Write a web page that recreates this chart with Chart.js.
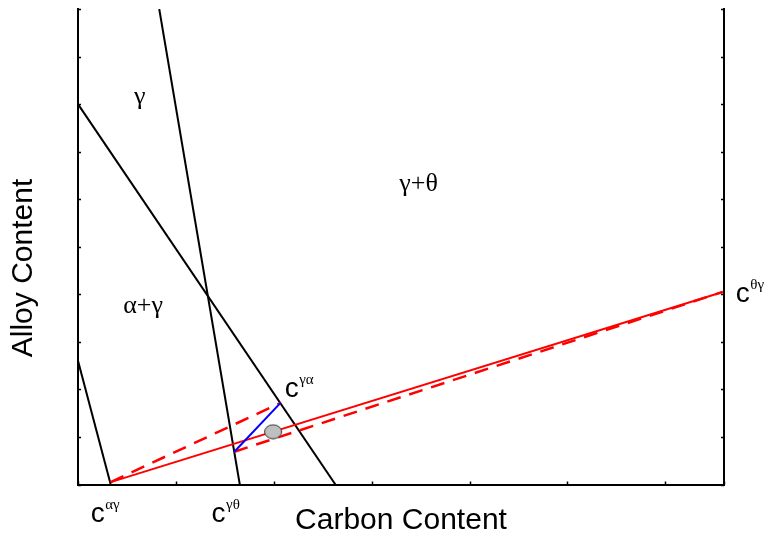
<!DOCTYPE html>
<html lang="en">
  <head>
    <meta charset="UTF-8" />
    <meta name="viewport" content="width=device-width, initial-scale=1.0" />
    <title>Carbon and alloy partitioning</title>
    <script src="https://cdn.jsdelivr.net/npm/chart.js"></script>
    <style>
      body { margin: 0; background: #fff; }
      #box { width: 767px; height: 534px; }
    </style>
  </head>
  <body>
    <div id="box"><canvas id="phase-diagram" width="767" height="534"></canvas></div>
    <script>
      // phase boundaries (carbon, alloy)
      const gammaThetaX = [0.83, 1.653];
      const gammaThetaY = [10, 0];
      const gammaAlphaX = [0, 2.63];
      const gammaAlphaY = [8.0, 0];
      const alphaGammaX = [0, 0.334];
      const alphaGammaY = [2.6, 0];

      // tie-lines
      const tieLineX = [0.334, 6.587];
      const tieLineY = [0.05, 4.05];
      const upperDashX = [0.334, 2.069];
      const upperDashY = [0.05, 1.717];
      const lowerDashX = [1.597, 6.587];
      const lowerDashY = [0.69, 4.05];
      const gammaTieX = [1.597, 2.069];
      const gammaTieY = [0.69, 1.717];

      // bulk composition
      const alloyX = [1.993];
      const alloyY = [1.11];

      const xMax = 6.6;
      const yMax = 10;

      const SANS = '"Liberation Sans", Arial, sans-serif';
      const SERIF = '"Liberation Serif", "Times New Roman", serif';

      const toPoints = (xs, ys) => xs.map((x, i) => ({ x: x, y: ys[i] }));

      function lineSet(xs, ys, color, width, dash) {
        return {
          data: toPoints(xs, ys),
          showLine: true,
          borderColor: color,
          borderWidth: width,
          borderDash: dash || [],
          pointRadius: 0,
          fill: false,
        };
      }

      // grey ellipse used as the point style of the alloy marker
      const ellipse = document.createElement("canvas");
      ellipse.width = 20;
      ellipse.height = 16;
      (function () {
        const c = ellipse.getContext("2d");
        c.beginPath();
        c.ellipse(10, 8, 8.5, 7, 0, 0, Math.PI * 2);
        c.fillStyle = "#bfbfbf";
        c.fill();
        c.lineWidth = 1;
        c.strokeStyle = "#333";
        c.stroke();
      })();

      // region names and composition labels, placed in data units
      const regionLabels = [
        { text: "\u03b3", x: 0.63, y: 8.0 },
        { text: "\u03b3+\u03b8", x: 3.48, y: 6.18 },
        { text: "\u03b1+\u03b3", x: 0.665, y: 3.6 },
      ];
      const compLabels = [
        { sup: "\u03b1\u03b3", x: 0.13, y: -0.78 },
        { sup: "\u03b3\u03b8", x: 1.364, y: -0.78 },
        { sup: "\u03b3\u03b1", x: 2.112, y: 1.836 },
        { sup: "\u03b8\u03b3", x: 6.72, y: 3.836 },
      ];

      const annotate = {
        id: "annotate",
        afterDraw(chart) {
          const ctx = chart.ctx;
          const xs = chart.scales.x;
          const ys = chart.scales.y;
          const ys2 = chart.scales.y2;
          const area = chart.chartArea;

          // inward tick marks
          ctx.save();
          ctx.strokeStyle = "#000";
          ctx.lineWidth = 1.5;
          ctx.beginPath();
          xs.ticks.forEach((t) => {
            const px = Math.round(xs.getPixelForValue(t.value)) + 0.5;
            ctx.moveTo(px, area.bottom);
            ctx.lineTo(px, area.bottom - 3);
          });
          ys.ticks.forEach((t) => {
            const py = Math.round(ys.getPixelForValue(t.value)) + 0.5;
            ctx.moveTo(area.left, py);
            ctx.lineTo(area.left + 3, py);
          });
          ys2.ticks.forEach((t) => {
            const py = Math.round(ys2.getPixelForValue(t.value)) + 0.5;
            ctx.moveTo(area.right, py);
            ctx.lineTo(area.right - 3, py);
          });
          ctx.stroke();

          ctx.fillStyle = "#000";
          ctx.textBaseline = "alphabetic";

          ctx.font = "26px " + SERIF;
          ctx.textAlign = "center";
          regionLabels.forEach((l) => {
            ctx.fillText(l.text, xs.getPixelForValue(l.x), ys.getPixelForValue(l.y));
          });

          ctx.textAlign = "left";
          compLabels.forEach((l) => {
            const px = xs.getPixelForValue(l.x);
            const py = ys.getPixelForValue(l.y);
            ctx.font = "28px " + SANS;
            ctx.fillText("c", px, py);
            const w = ctx.measureText("c").width;
            ctx.font = "15px " + SERIF;
            ctx.fillText(l.sup, px + w + 0.5, py - 13);
          });

          // axis titles
          ctx.font = "30px " + SANS;
          ctx.textAlign = "center";
          ctx.fillText("Carbon Content", (area.left + area.right) / 2, 529);
          ctx.translate(32, 268);
          ctx.rotate(-Math.PI / 2);
          ctx.fillText("Alloy Content", 0, 0);
          ctx.restore();
        },
      };

      const axisStyle = {
        type: "linear",
        min: 0,
        border: { display: true, color: "#000", width: 2 },
        grid: { display: false },
        ticks: { display: false, stepSize: 1 },
      };

      const config = {
        type: "scatter",
        data: {
          datasets: [
            {
              data: toPoints(alloyX, alloyY),
              pointStyle: ellipse,
              pointRadius: 8,
              showLine: false,
            },
            lineSet(gammaTieX, gammaTieY, "#0000ff", 2),
            lineSet(upperDashX, upperDashY, "#ff0000", 2.5, [14, 9]),
            lineSet(lowerDashX, lowerDashY, "#ff0000", 2.5, [14, 9]),
            lineSet(tieLineX, tieLineY, "#ff0000", 2),
            lineSet(gammaThetaX, gammaThetaY, "#000", 2),
            lineSet(gammaAlphaX, gammaAlphaY, "#000", 2),
            lineSet(alphaGammaX, alphaGammaY, "#000", 2),
          ],
        },
        options: {
          responsive: false,
          animation: false,
          devicePixelRatio: 1,
          layout: { padding: { top: 8, left: 0, right: 0, bottom: 0 } },
          plugins: {
            legend: { display: false },
            tooltip: { enabled: false },
          },
          scales: {
            x: {
              ...axisStyle,
              max: xMax,
              afterFit: (s) => { s.height = 49.5; },
            },
            y: {
              ...axisStyle,
              max: yMax,
              position: "left",
              afterFit: (s) => { s.width = 78; },
            },
            y2: {
              ...axisStyle,
              max: yMax,
              position: "right",
              afterFit: (s) => { s.width = 43; },
            },
          },
        },
        plugins: [annotate],
      };

      new Chart(document.getElementById("phase-diagram"), config);
    </script>
  </body>
</html>
